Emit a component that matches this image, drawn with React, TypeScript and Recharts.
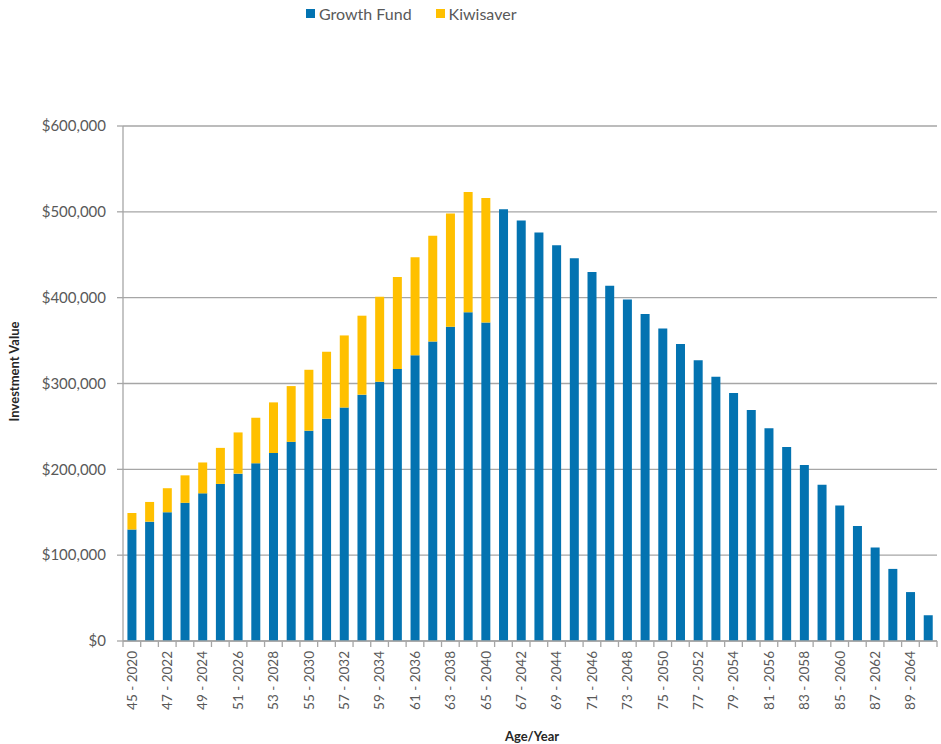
import React from "react";
import { BarChart, Bar, XAxis, YAxis, CartesianGrid, Legend } from "recharts";

const categories = [
  "45 - 2020", "46 - 2021", "47 - 2022", "48 - 2023", "49 - 2024", "50 - 2025",
  "51 - 2026", "52 - 2027", "53 - 2028", "54 - 2029", "55 - 2030", "56 - 2031",
  "57 - 2032", "58 - 2033", "59 - 2034", "60 - 2035", "61 - 2036", "62 - 2037",
  "63 - 2038", "64 - 2039", "65 - 2040", "66 - 2041", "67 - 2042", "68 - 2043",
  "69 - 2044", "70 - 2045", "71 - 2046", "72 - 2047", "73 - 2048", "74 - 2049",
  "75 - 2050", "76 - 2051", "77 - 2052", "78 - 2053", "79 - 2054", "80 - 2055",
  "81 - 2056", "82 - 2057", "83 - 2058", "84 - 2059", "85 - 2060", "86 - 2061",
  "87 - 2062", "88 - 2063", "89 - 2064", "90 - 2065",
];

const growthFund = [
  130000, 139000, 150000, 161000, 172000, 183000, 195000, 207000, 219000, 232000,
  245000, 259000, 272000, 287000, 302000, 317000, 333000, 349000, 366000, 383000,
  371000, 503000, 490000, 476000, 461000, 446000, 430000, 414000, 398000, 381000,
  364000, 346000, 327000, 308000, 289000, 269000, 248000, 226000, 205000, 182000,
  158000, 134000, 109000, 84000, 57000, 30000,
];

const kiwisaver = [
  19000, 23000, 28000, 32000, 36000, 42000, 48000, 53000, 59000, 65000,
  71000, 78000, 84000, 92000, 99000, 107000, 114000, 123000, 132000, 140000,
  145000, 0, 0, 0, 0, 0, 0, 0, 0, 0,
  0, 0, 0, 0, 0, 0, 0, 0, 0, 0,
  0, 0, 0, 0, 0, 0,
];

const yTicks = [0, 100000, 200000, 300000, 400000, 500000, 600000];

const data = categories.map((c, i) => ({
  name: c,
  growth: growthFund[i],
  kiwi: kiwisaver[i],
}));

const W = 941;
const H = 744;
const MARGIN = { top: 107, right: 4, bottom: 2, left: 0 };
const Y_WIDTH = 123;
const X_HEIGHT = 101;
const PLOT_W = W - MARGIN.left - MARGIN.right - Y_WIDTH;
const STEP = PLOT_W / categories.length;

const BLUE = "#0373B1";
const YELLOW = "#FFC000";
const GRID = "#A6A6A6";
const FONT = "Lato, 'Open Sans', sans-serif";

const XTick = (props: any) => {
  const { x, y, index, payload } = props;
  const axisY = y - 0;
  const left = x - STEP / 2;
  const right = x + STEP / 2;
  return (
    <g>
      <line x1={left} x2={left} y1={axisY} y2={axisY + 6} stroke={GRID} strokeWidth={1.3} />
      {index === categories.length - 1 ? (
        <line x1={right} x2={right} y1={axisY} y2={axisY + 6} stroke={GRID} strokeWidth={1.3} />
      ) : null}
      {index % 2 === 0 ? (
        <text
          x={x}
          y={axisY + 10}
          transform={`rotate(-90, ${x}, ${axisY + 10})`}
          textAnchor="end"
          dy="0.36em"
          fontSize={13.5}
          fontFamily={FONT}
          fill="#595959"
        >
          {payload.value}
        </text>
      ) : null}
    </g>
  );
};

const renderLegend = () => (
  <div
    style={{
      display: "flex",
      alignItems: "center",
      fontFamily: FONT,
      fontSize: 16,
      color: "#595959",
      whiteSpace: "nowrap",
    }}
  >
    <span style={{ display: "inline-block", width: 9, height: 9, background: BLUE, marginRight: 4 }} />
    <span style={{ marginRight: 24 }}>Growth Fund</span>
    <span style={{ display: "inline-block", width: 9, height: 9, background: YELLOW, marginRight: 4 }} />
    <span>Kiwisaver</span>
  </div>
);

const YTitle = (props: any) => {
  const vb = props.viewBox || { x: 0, y: 0, width: 0, height: 0 };
  const cx = 14;
  const cy = vb.y + vb.height / 2 - 12;
  return (
    <text
      x={cx}
      y={cy}
      transform={`rotate(-90, ${cx}, ${cy})`}
      textAnchor="middle"
      dy="0.36em"
      fontSize={13}
      fontWeight="bold"
      fontFamily={FONT}
      fill="#262626"
    >
      Investment Value
    </text>
  );
};

const XTitle = (props: any) => {
  const vb = props.viewBox || { x: 0, y: 0, width: 0, height: 0 };
  const cx = vb.x + vb.width / 2 + 2;
  return (
    <text
      x={cx}
      y={736}
      textAnchor="middle"
      dy="0.36em"
      fontSize={13}
      fontWeight="bold"
      fontFamily={FONT}
      fill="#262626"
    >
      Age/Year
    </text>
  );
};

export default function App() {
  return (
    <div style={{ position: "absolute", left: 0, top: 0, width: W, height: H, background: "#fff" }}>
      <BarChart width={W} height={H} data={data} margin={MARGIN} barCategoryGap="25%">
        <CartesianGrid vertical={false} stroke={GRID} strokeWidth={1.3} />
        <XAxis
          dataKey="name"
          interval={0}
          height={X_HEIGHT}
          tickLine={false}
          tickSize={0}
          tickMargin={0}
          tick={<XTick />}
          axisLine={{ stroke: GRID, strokeWidth: 1.3 }}
          label={<XTitle />}
        />
        <YAxis
          width={Y_WIDTH}
          domain={[0, 600000]}
          ticks={yTicks}
          interval={0}
          tickSize={6}
          tickMargin={11}
          tickLine={{ stroke: GRID, strokeWidth: 1.3 }}
          axisLine={{ stroke: GRID, strokeWidth: 1.3 }}
          tick={{ fontSize: 15, fontFamily: FONT, fill: "#595959" }}
          tickFormatter={(v: number) => "$" + v.toLocaleString("en-US")}
          label={<YTitle />}
        />
        <Legend
          verticalAlign="top"
          content={renderLegend}
          wrapperStyle={{ position: "absolute", top: 4, left: 306, width: "auto" }}
        />
        <Bar dataKey="growth" name="Growth Fund" stackId="a" fill={BLUE} isAnimationActive={false} />
        <Bar dataKey="kiwi" name="Kiwisaver" stackId="a" fill={YELLOW} isAnimationActive={false} />
      </BarChart>
    </div>
  );
}
